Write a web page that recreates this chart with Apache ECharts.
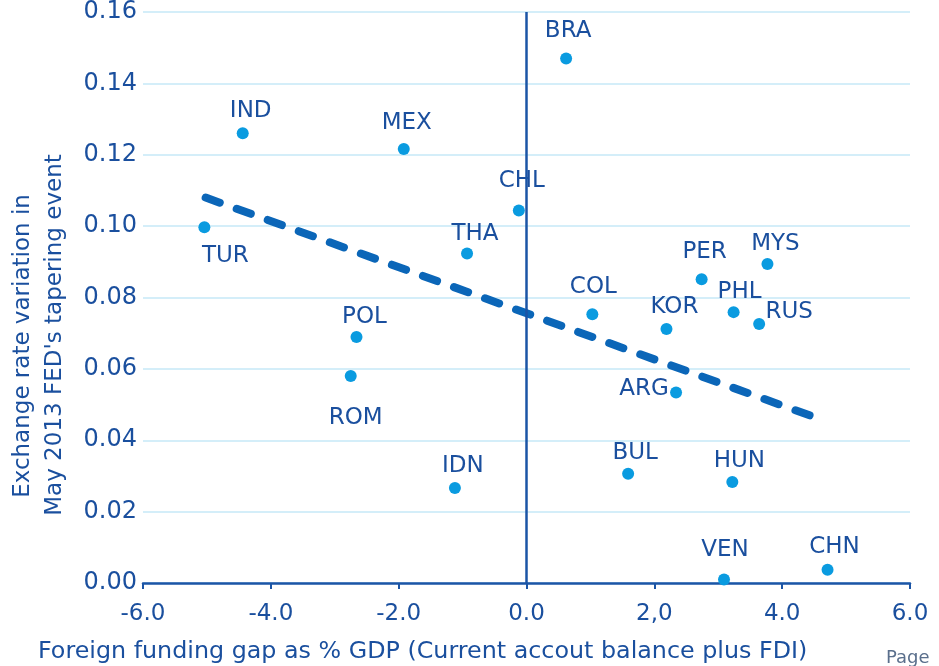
<!doctype html>
<html>
<head>
<meta charset="UTF-8">
<title>Funding gap vs exchange rate variation</title>
<script src="https://cdn.jsdelivr.net/npm/echarts@6/dist/echarts.min.js"></script>
<style>
  html, body { margin: 0; padding: 0; background: #fff; }
  #main { width: 939px; height: 666px; }
</style>
</head>
<body>
<div id="main"></div>
<script>
// data
var countries = ['BRA','IND','MEX','CHL','TUR','THA','POL','ROM','IDN','COL','KOR','PER','MYS','PHL','RUS','ARG','BUL','HUN','VEN','CHN'];
var fundingGap = [0.62,-4.44,-1.92,-0.12,-5.04,-0.93,-2.66,-2.75,-1.12,1.03,2.19,2.74,3.77,3.24,3.64,2.34,1.59,3.22,3.09,4.71];
var fxVariation = [0.147,0.126,0.1216,0.1044,0.0997,0.0923,0.0689,0.058,0.0266,0.0753,0.0712,0.0851,0.0894,0.0759,0.0726,0.0534,0.0306,0.0283,0.001,0.0037];
var trendX = [-5.02, 4.58];
var trendY = [0.108, 0.046];
var xTickLabels = ['-6.0','-4.0','-2.0','0.0','2,0','4.0','6.0'];
var yTickLabels = ['0.00','0.02','0.04','0.06','0.08','0.10','0.12','0.14','0.16'];

// where each country label sits relative to its dot
var labelOffsets = [[2,-27],[8,-22],[3,-26],[3,-29],[21,29],[8,-20],[8,-20],[5,42],[8,-22],[1,-27],
                    [8,-22],[3,-27],[8,-20],[6,-20],[30,-12],[-32,-3],[7,-21],[7,-21],[1,-29],[7,-23]];

var dark = '#1a4f9e';
var font = 'DejaVu Sans';

var points = [];
for (var i = 0; i < countries.length; i++) {
    points.push({
        name: countries[i],
        value: [fundingGap[i], fxVariation[i]],
        label: { offset: labelOffsets[i] }
    });
}
var trend = [];
for (var j = 0; j < trendX.length; j++) {
    trend.push([trendX[j], trendY[j]]);
}

var myChart = echarts.init(document.getElementById('main'));

var option = {
    animation: false,
    grid: { left: 143, right: 29, top: 12, bottom: 83, containLabel: false },
    xAxis: {
        type: 'value',
        min: -6, max: 6, interval: 2,
        splitLine: { show: false },
        axisLine: { lineStyle: { color: '#1b55a6', width: 2.5 } },
        axisTick: { show: true, length: 6, lineStyle: { color: '#1b55a6', width: 2 } },
        axisLabel: {
            margin: 20,
            color: dark,
            fontFamily: font,
            fontSize: 23,
            formatter: function (v) { return xTickLabels[Math.round((v + 6) / 2)]; }
        }
    },
    yAxis: {
        type: 'value',
        min: 0, max: 0.16, interval: 0.02,
        axisLine: { show: false },
        axisTick: { show: false },
        splitLine: { lineStyle: { color: '#c6e8f7', width: 1.5 } },
        axisLabel: {
            margin: 6,
            color: dark,
            fontFamily: font,
            fontSize: 24,
            padding: [10, 0, 0, 0],
            formatter: function (v) { return yTickLabels[Math.round(v / 0.02)]; }
        }
    },
    series: [
        {
            type: 'line',
            data: trend,
            symbol: 'none',
            z: 3,
            lineStyle: { color: '#0b66b8', width: 8, type: [15, 18], cap: 'round' }
        },
        {
            type: 'scatter',
            data: points,
            symbolSize: 12,
            z: 4,
            itemStyle: { color: '#0a9be0', opacity: 1 },
            label: {
                show: true,
                position: 'inside',
                formatter: '{b}',
                color: dark,
                textBorderWidth: 0,
                textBorderColor: 'transparent',
                fontFamily: font,
                fontSize: 23
            },
            markLine: {
                silent: true,
                symbol: 'none',
                label: { show: false },
                lineStyle: { color: '#1b55a6', width: 2.5, type: 'solid' },
                data: [{ xAxis: 0 }]
            }
        }
    ],
    graphic: [
        {
            type: 'text',
            left: 38, top: 640,
            style: {
                text: 'Foreign funding gap as % GDP (Current accout balance plus FDI)',
                fill: dark, font: '23.8px "DejaVu Sans"'
            }
        },
        {
            type: 'text',
            x: 23, y: 346, rotation: Math.PI / 2,
            style: {
                text: 'Exchange rate variation in',
                fill: dark, font: '23px "DejaVu Sans"',
                align: 'center', verticalAlign: 'middle'
            }
        },
        {
            type: 'text',
            x: 55, y: 335, rotation: Math.PI / 2,
            style: {
                text: "May 2013 FED's tapering event",
                fill: dark, font: '23px "DejaVu Sans"',
                align: 'center', verticalAlign: 'middle'
            }
        },
        {
            type: 'text',
            left: 886, top: 649,
            style: { text: 'Page', fill: '#5a6f8c', font: '18px "DejaVu Sans"' }
        }
    ]
};

myChart.setOption(option);
</script>
</body>
</html>
